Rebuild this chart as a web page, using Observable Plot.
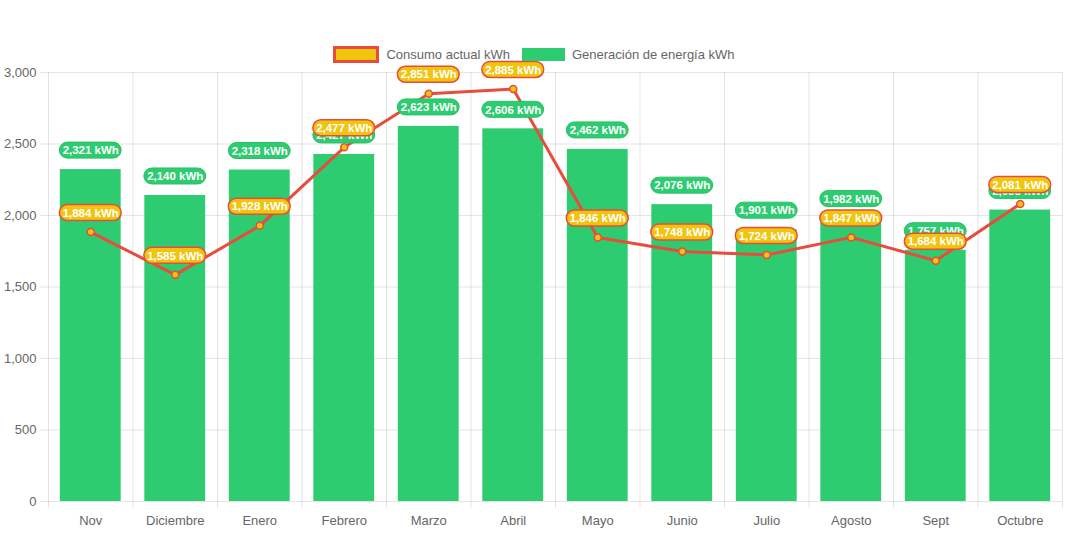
<!DOCTYPE html>
<html><head><meta charset="utf-8">
<script src="https://cdn.jsdelivr.net/npm/d3@7"></script>
<script src="https://cdn.jsdelivr.net/npm/@observablehq/plot@0.6"></script>
<style>
html,body{margin:0;padding:0;background:#fff;overflow:hidden;}
#wrap{position:relative;width:1068px;height:533px;}
#legend{position:absolute;top:46px;left:0;width:1068px;display:flex;justify-content:center;align-items:center;font-family:"Liberation Sans",Arial,sans-serif;font-size:13px;color:#666;}
.item{display:flex;align-items:center;margin:0 6px;}
.box{display:inline-block;box-sizing:border-box;margin-right:7px;}
svg{display:block;}
</style></head>
<body><div id="wrap"><div id="legend"></div><div id="chart"></div></div>
<script>
const months = ["Nov","Diciembre","Enero","Febrero","Marzo","Abril","Mayo","Junio","Julio","Agosto","Sept","Octubre"];
const generacion = [2321,2140,2318,2427,2623,2606,2462,2076,1901,1982,1757,2038];
const consumo = [1884,1585,1928,2477,2851,2885,1846,1748,1724,1847,1684,2081];
const yTicks = [0,500,1000,1500,2000,2500,3000];
const seriesNames = ["Consumo actual kWh","Generación de energía kWh"];

const green = "#2ecc71", yellow = "#f1c40f", red = "#e74c3c";
const W = 1068, H = 533, mL = 48, mR = 6, mT = 72, mB = 32;
const bw = (W - mL - mR) / months.length;
const inset = bw * 0.14;

const gen = months.map((m,i)=>({month:m, value:generacion[i]}));
const con = months.map((m,i)=>({month:m, value:consumo[i]}));
const fmt = v => d3.format(",")(v) + " kWh";

const chart = Plot.plot({
  width: W, height: H, marginLeft: mL, marginRight: mR, marginTop: mT, marginBottom: mB,
  style: {fontFamily: "'Liberation Sans', Arial, sans-serif", fontSize: "13px", color: "#666", background: "#fff"},
  x: {type: "band", domain: months, padding: 0, round: false, label: null},
  y: {domain: [0, 3000], label: null},
  marks: [
    Plot.ruleY(yTicks, {stroke: "#000", strokeOpacity: 0.1, insetLeft: -8}),
    Plot.ruleX(months, {x: d => d, dx: -bw/2, stroke: "#000", strokeOpacity: 0.1, insetBottom: -7}),
    Plot.ruleX([months[months.length-1]], {x: d => d, dx: bw/2, stroke: "#000", strokeOpacity: 0.1, insetBottom: -7}),
    Plot.axisY({ticks: yTicks, tickSize: 0, tickPadding: 12, tickFormat: d3.format(","), fill: "#666", fontSize: 13}),
    Plot.axisX({tickSize: 0, tickPadding: 14, fill: "#666", fontSize: 13}),
    Plot.barY(gen, {x: "month", y: "value", fill: green, insetLeft: inset, insetRight: inset}),
    Plot.line(con, {x: "month", y: "value", stroke: red, strokeWidth: 3}),
    Plot.dot(con, {x: "month", y: "value", r: 3.5, fill: yellow, stroke: red, strokeWidth: 1.5}),
    Plot.barY(gen, {x: "month", y1: "value", y2: "value", dy: -19, insetTop: -8, insetBottom: -8, insetLeft: inset - 0.5, insetRight: inset - 0.5, rx: 8, fill: green, stroke: "#27c267", strokeWidth: 1}),
    Plot.text(gen, {x: "month", y: "value", dy: -19, text: d => fmt(d.value), fill: "#fff", fontWeight: "bold", fontSize: 11.5}),
    Plot.barY(con, {x: "month", y1: "value", y2: "value", dy: -19, insetTop: -8, insetBottom: -8, insetLeft: inset - 0.5, insetRight: inset - 0.5, rx: 8, fill: yellow, stroke: red, strokeWidth: 1.5}),
    Plot.text(con, {x: "month", y: "value", dy: -19, text: d => fmt(d.value), fill: "#fff", fontWeight: "bold", fontSize: 11.5})
  ]
});
document.getElementById("chart").appendChild(chart);

const legend = document.getElementById("legend");
seriesNames.forEach((name, i) => {
  const item = document.createElement("div");
  item.className = "item";
  const box = document.createElement("span");
  box.className = "box";
  if (i === 0) { box.style.width = "46px"; box.style.height = "17px"; box.style.background = yellow; box.style.border = "3px solid " + red; }
  else { box.style.width = "43px"; box.style.height = "13px"; box.style.background = green; }
  item.appendChild(box);
  const t = document.createElement("span");
  t.textContent = name;
  item.appendChild(t);
  legend.appendChild(item);
});
</script></body></html>
